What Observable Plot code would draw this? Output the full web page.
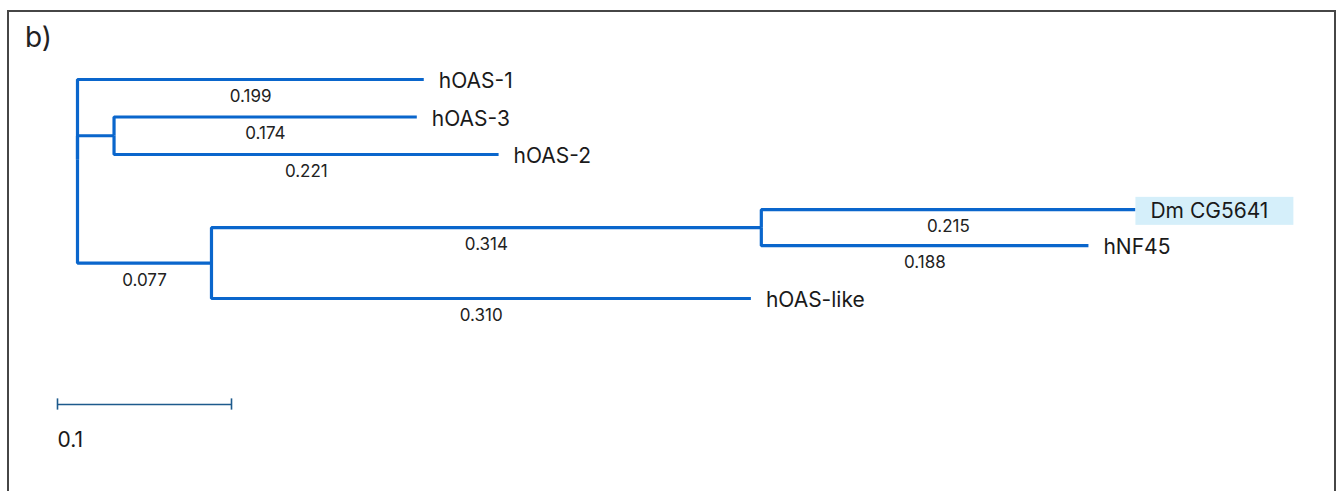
<!DOCTYPE html>
<html>
<head>
<meta charset="utf-8">
<script src="https://cdn.jsdelivr.net/npm/d3@7"></script>
<script src="https://cdn.jsdelivr.net/npm/@observablehq/plot@0.6"></script>
<style>
  html, body { margin: 0; padding: 0; background: #fff; }
  #wrap { position: relative; width: 1340px; height: 491px; overflow: hidden; font-family: Inter, "Noto Sans", sans-serif; }
  #frame { position: absolute; left: 7px; top: 10px; width: 1325px; height: 500px; border: 2.5px solid #464646; box-sizing: content-box; }
  #title { position: absolute; left: 25px; top: 23px; font-size: 28px; color: #222; line-height: 1; }
  #chart { position: absolute; left: 0; top: 0; }
</style>
</head>
<body>
<div id="wrap">
  <div id="frame"></div>
  <div id="title">b)</div>
  <div id="chart"></div>
</div>
<script>
// ---- data ----
const edgeParent = ["root", "root", "A", "A", "root", "B", "B", "C", "C"];
const edgeChild  = ["hOAS-1", "A", "hOAS-3", "hOAS-2", "B", "C", "hOAS-like", "Dm CG5641", "hNF45"];
const edgeLength = [0.199, 0.021, 0.174, 0.221, 0.077, 0.316, 0.310, 0.215, 0.188];
const edgeLabels = ["0.199", "", "0.174", "0.221", "0.077", "0.314", "0.310", "0.215", "0.188"];
const leafNames = ["hOAS-1", "hOAS-3", "hOAS-2", "Dm CG5641", "hNF45", "hOAS-like"];
const leafRows  = [0, 1, 2, 3.47, 4.43, 5.84];
const highlightedLeaves = ["Dm CG5641"];
const scaleBarLength = 0.1;
const scaleBarLabel = "0.1";

// ---- tree layout from data ----
const children = {};
edgeParent.forEach((p, i) => { (children[p] = children[p] || []).push(i); });
const nodeX = { root: 0 };
const nodeY = {};
leafNames.forEach((n, i) => nodeY[n] = leafRows[i]);
function setX(node) {
  (children[node] || []).forEach(i => { nodeX[edgeChild[i]] = nodeX[node] + edgeLength[i]; setX(edgeChild[i]); });
}
setX("root");
function setY(node) {
  if (nodeY[node] !== undefined) return nodeY[node];
  const ys = children[node].map(i => setY(edgeChild[i]));
  return nodeY[node] = d3.mean(ys);
}
setY("root");

const edges = edgeChild.map((c, i) => ({
  id: i, parent: edgeParent[i], child: c, label: edgeLabels[i],
  px: nodeX[edgeParent[i]], py: nodeY[edgeParent[i]], cx: nodeX[c], cy: nodeY[c]
}));
const elbowPts = edges.flatMap(e => [
  {id: e.id, x: e.px, y: e.py},
  {id: e.id, x: e.px, y: e.cy},
  {id: e.id, x: e.cx, y: e.cy}
]);
const leaves = leafNames.map(n => ({name: n, x: nodeX[n], y: nodeY[n], hi: highlightedLeaves.includes(n)}));

// ---- scales (layout) ----
const W = 1340, H = 491;
const pxPerUnit = 1740, rootPx = 77;
const rowPx = 37.5, row0Px = 79;
const scaleBarStart = -20 / pxPerUnit;
const scaleBarRow = (404 - row0Px) / rowPx;

const branchColor = "#0a66cc";
const barColor = "#1d5a8c";

const chart = Plot.plot({
  width: W, height: H,
  margin: 0,
  x: {domain: [-rootPx / pxPerUnit, (W - rootPx) / pxPerUnit], range: [0, W], axis: null},
  y: {domain: [-row0Px / rowPx, (H - row0Px) / rowPx], range: [0, H], axis: null},
  style: {fontFamily: "Inter, 'Noto Sans', sans-serif", background: "transparent", overflow: "visible"},
  marks: [
    Plot.line(elbowPts, {x: "x", y: "y", z: "id", stroke: branchColor, strokeWidth: 3.2, strokeLinejoin: "miter", strokeLinecap: "butt", curve: "linear"}),
    Plot.text(edges.filter(e => e.label), {
      x: e => (e.px + e.cx) / 2, y: "cy", text: "label",
      dy: 17, fontSize: 17, fill: "#222"
    }),
    Plot.text(leaves, {
      x: "x", y: "y", text: "name", dx: 15, dy: 2, textAnchor: "start", fontSize: 21, fill: "#1a1a1a",
      className: "leaf-label"
    }),
    Plot.ruleY([scaleBarRow], {x1: scaleBarStart, x2: scaleBarStart + scaleBarLength, stroke: barColor, strokeWidth: 1.6}),
    Plot.ruleX([scaleBarStart, scaleBarStart + scaleBarLength], {y1: scaleBarRow - 0.15, y2: scaleBarRow + 0.15, stroke: barColor, strokeWidth: 1.6}),
    Plot.text([scaleBarLabel], {x: scaleBarStart, y: scaleBarRow, text: d => d, dy: 36, textAnchor: "start", fontSize: 21, fill: "#1a1a1a"})
  ]
});
document.getElementById("chart").appendChild(chart);

// highlight box behind highlighted leaf labels
const leafTexts = chart.querySelectorAll(".leaf-label text");
leafTexts.forEach((t, i) => {
  const d = leaves[i];
  if (!d || !d.hi) return;
  const bb = t.getBBox();
  const rect = document.createElementNS("http://www.w3.org/2000/svg", "rect");
  const cy = bb.y + bb.height / 2;
  rect.setAttribute("x", bb.x - 15);
  rect.setAttribute("y", cy - 14);
  rect.setAttribute("width", bb.width + 40);
  rect.setAttribute("height", 28);
  rect.setAttribute("fill", "#d5effa");
  const tr = t.getAttribute("transform");
  if (tr) rect.setAttribute("transform", tr);
  t.parentNode.insertBefore(rect, t);
});
</script>
</body>
</html>
